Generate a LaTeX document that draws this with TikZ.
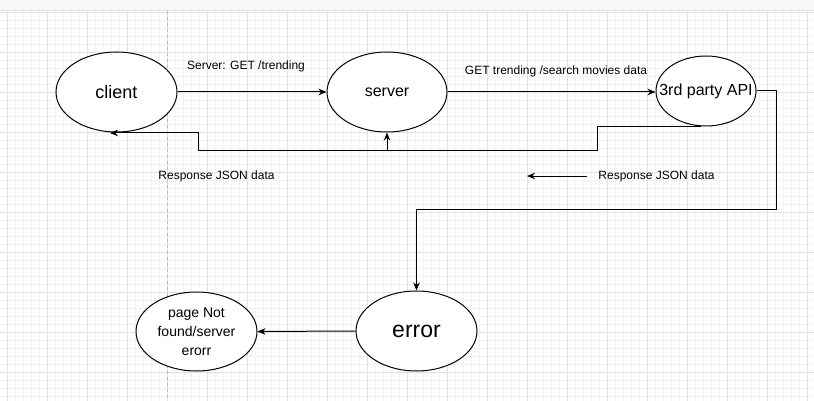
\documentclass[tikz,border=0pt]{standalone}
\usepackage{fontspec}
\setmainfont{Liberation Sans}
\usetikzlibrary{arrows.meta,shapes.geometric}
\definecolor{gmaj}{HTML}{E2E2E2}
\definecolor{gmin}{HTML}{F3F3F3}
\definecolor{band}{HTML}{F7F7F7}
\definecolor{pagebrk}{HTML}{BBBBBB}
\begin{document}
\begin{tikzpicture}[x=1pt,y=-1pt,
  ell/.style={draw=black, line width=1pt, ellipse, inner sep=0pt, fill=white},
  txt/.style={inner sep=0pt, align=center, text=black},
  lbl/.style={inner sep=0pt, font=\fontsize{12}{14}\selectfont},
  edge/.style={draw=black, line width=1pt, -{Stealth[length=8pt,width=6.5pt,inset=2.5pt]}}]
\useasboundingbox (0,0) rectangle (814,401);
\fill[white] (0,0) rectangle (814,401);
% grid
\foreach \x in {7,15,...,813} \draw[gmin, line width=0.8pt] (\x,11) -- (\x,401);
\foreach \y in {12,20,...,400} \draw[gmin, line width=0.8pt] (0,\y) -- (814,\y);
\foreach \x in {7,47,...,807} \draw[gmaj, line width=0.8pt] (\x,11) -- (\x,401);
\foreach \y in {12,52,...,392} \draw[gmaj, line width=0.8pt] (0,\y) -- (814,\y);
\draw[pagebrk, line width=0.8pt, dash pattern=on 3pt off 3pt] (167,11) -- (167,401);
% top band
\fill[band] (0,0) rectangle (814,10);
\draw[gmaj, line width=1pt] (0,10.5) -- (814,10.5);
% nodes
\node[ell, minimum width=121pt, minimum height=80pt] (client) at (116.5,92) {};
\node[txt, font=\fontsize{18}{21}\selectfont] (clientt) at (client) {client};
\node[ell, minimum width=120pt, minimum height=80pt] (server) at (387,92) {};
\node[txt, font=\fontsize{16}{19}\selectfont] (servert) at (server) {server};
\node[ell, minimum width=100pt, minimum height=70pt] (api) at (706,91) {};
\node[txt, font=\fontsize{16}{19}\selectfont] (apit) at (api) {3rd party API};
\node[ell, minimum width=121pt, minimum height=80pt] (error) at (416.5,331) {};
\node[txt, font=\fontsize{23}{26}\selectfont] (errort) at (error) {error};
\node[ell, minimum width=121pt, minimum height=79pt] (page) at (196.5,331.5) {};
\node[txt, font=\fontsize{14}{19}\selectfont] (paget) at (page) {page Not\\found/server\\erorr};
% labels
\node[lbl] (lab1) at (246,66) {Server: GET /trending};
\node[lbl] (lab2) at (556,71) {GET trending /search movies data};
\node[lbl] (lab3) at (216.5,176) {Response JSON data};
\node[lbl] (lab4) at (656.5,176) {Response JSON data};
% coordinates
\coordinate (r1) at (597,126);
\coordinate (r3) at (198,151);
\coordinate (cin) at (110,133);
\coordinate (e1) at (776,209);
\coordinate (la1) at (587,176);
\coordinate (la2) at (527,176);
% edges
\draw[edge] (client) -- (server);
\draw[edge] (server.east) -- (server.east -| api.west);
\draw[edge] (api.262) -- (r1 |- api.262) |- (r3) |- (cin);
\draw[edge] (server.south |- r3) -- (server.south);
\draw[edge] (api.east) -| (e1) -| (error.north);
\draw[edge] (error.west) -- (page.east);
\draw[edge] (la1) -- (la2);
\end{tikzpicture}
\end{document}
